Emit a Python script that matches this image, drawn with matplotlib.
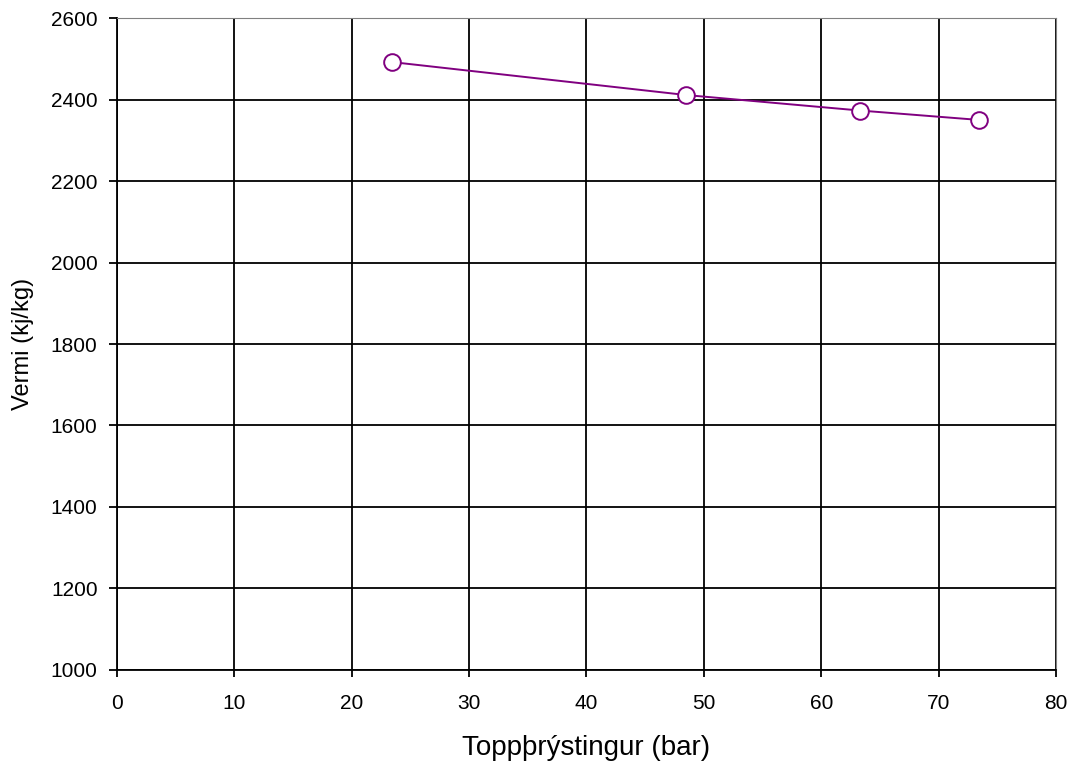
import matplotlib
matplotlib.use("Agg")
import matplotlib.pyplot as plt

pressure = [23.4, 48.5, 63.3, 73.4]
enthalpy = [2492, 2411, 2373, 2350]
xticks = list(range(0, 81, 10))
yticks = list(range(1000, 2601, 200))

plt.rcParams['font.family'] = ['Liberation Sans', 'DejaVu Sans']
fig = plt.figure(figsize=(10.78, 7.74), dpi=100)
ax = fig.add_axes([0.1085, 0.1344, 0.9796 - 0.1085, 0.9767 - 0.1344])
ax.set_xlim(0, 80)
ax.set_ylim(1000, 2600)
ax.set_xticks(xticks)
ax.set_yticks(yticks)
ax.grid(True, color='black', linewidth=1.3)
ax.set_axisbelow(True)
for s in ['top', 'right']:
    ax.spines[s].set_color('#808080')
for s in ['left', 'bottom']:
    ax.spines[s].set_color('black')
    ax.spines[s].set_linewidth(1.3)
ax.tick_params(axis='y', direction='out', length=6, width=1.3, labelsize=15, pad=8)
ax.tick_params(axis='x', direction='out', length=5, width=1.3, labelsize=15, pad=12)
ax.plot(pressure, enthalpy, color='#800080', linewidth=1.4, marker='o',
        markersize=12, markerfacecolor='white', markeredgecolor='#800080',
        markeredgewidth=1.4, zorder=5, clip_on=False)
ax.set_xlabel('Toppþrýstingur (bar)', fontsize=20, va='center')
ax.xaxis.set_label_coords(0.5, -0.1196)
ax.set_ylabel('Vermi (kj/kg)', fontsize=17, va='center')
ax.yaxis.set_label_coords(-0.1001, 0.5)
fig.savefig('out.png', dpi=100)
